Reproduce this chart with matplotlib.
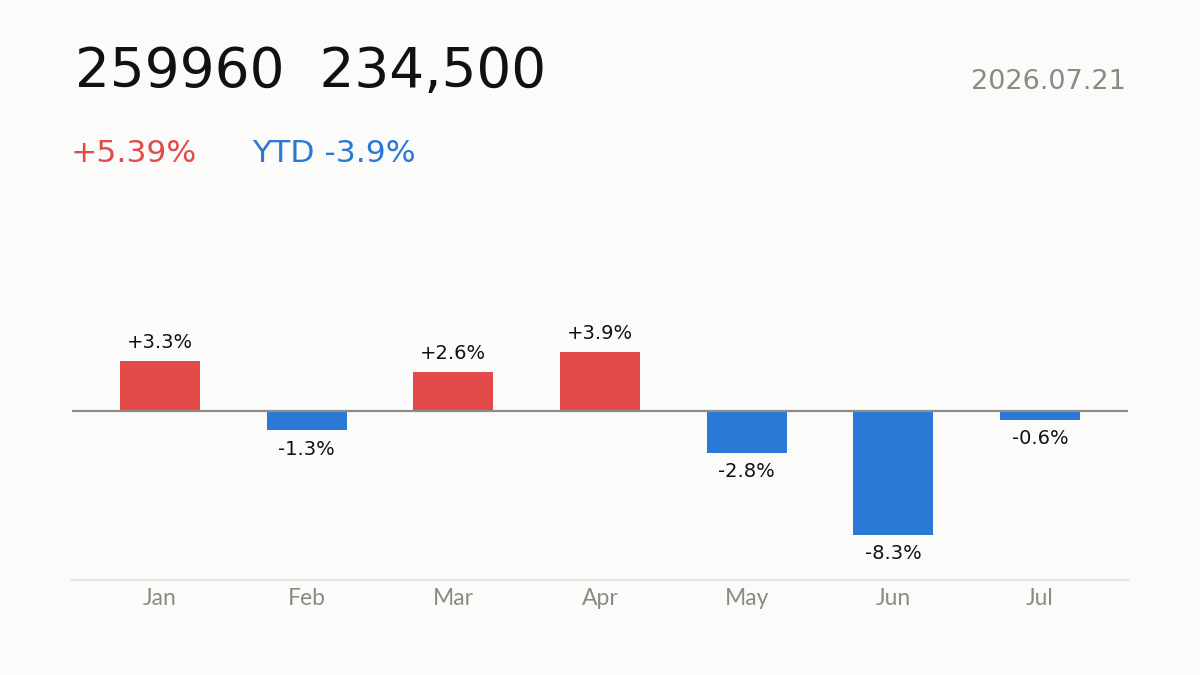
import matplotlib
matplotlib.use("Agg")
import matplotlib.pyplot as plt

months = ["Jan", "Feb", "Mar", "Apr", "May", "Jun", "Jul"]
changes = [3.3, -1.3, 2.6, 3.9, -2.8, -8.3, -0.6]
code = "259960"
price = "234,500"
day_change = "+5.39%"
ytd = "YTD -3.9%"
date = "2026.07.21"

RED = "#E34A4A"
BLUE = "#2A78D6"
BG = "#FBFBF9"
FONT = ["DejaVu Sans"]

W, H = 1200, 675
fig = plt.figure(figsize=(W / 100, H / 100), dpi=100, facecolor=BG)

# axes placed in pixel terms: x 72..1128, y 261..580
ax = fig.add_axes([72 / W, (H - 580) / H, (1128 - 72) / W, (580 - 261) / H])
ax.set_facecolor(BG)

x = list(range(len(months)))
colors = [RED if v >= 0 else BLUE for v in changes]
ax.bar(x, changes, width=0.545, color=colors, zorder=2)
ax.axhline(0, color="#8c8c88", lw=1.6, zorder=3)

for xi, v in zip(x, changes):
    lbl = f"{v:+.1f}%"
    if v >= 0:
        ax.annotate(lbl, (xi, v), xytext=(0, 6.5), textcoords="offset points",
                    ha="center", va="bottom", fontsize=14, family=FONT, color="#111111")
    else:
        ax.annotate(lbl, (xi, v), xytext=(0, -6.5), textcoords="offset points",
                    ha="center", va="top", fontsize=14, family=FONT, color="#111111")

ax.set_xlim(-0.6, 6.6)
ax.set_ylim(-11.27, 10)
ax.set_yticks([])
ax.set_xticks(x)
ax.set_xticklabels(months, family=["Lato", "DejaVu Sans"], fontsize=16.5, color="#8a8a86")
ax.tick_params(axis="x", length=0, pad=6)
for s in ["top", "left", "right"]:
    ax.spines[s].set_visible(False)
ax.spines["bottom"].set_color("#e2e2de")
ax.spines["bottom"].set_linewidth(1.5)

fig.text(75 / W, 1 - 87 / H, code + "  " + price, fontsize=39.5, family=FONT,
         color="#111111", ha="left", va="baseline")
fig.text(1126 / W, 1 - 89 / H, date, fontsize=19.5, family=FONT,
         color="#8a8a86", ha="right", va="baseline")
fig.text(71 / W, 1 - 162 / H, day_change, fontsize=22.6, family=FONT,
         color=RED, ha="left", va="baseline")
fig.text(252 / W, 1 - 162 / H, ytd, fontsize=22.6, family=FONT,
         color=BLUE, ha="left", va="baseline")

fig.savefig("out.png", dpi=100, facecolor=BG)
